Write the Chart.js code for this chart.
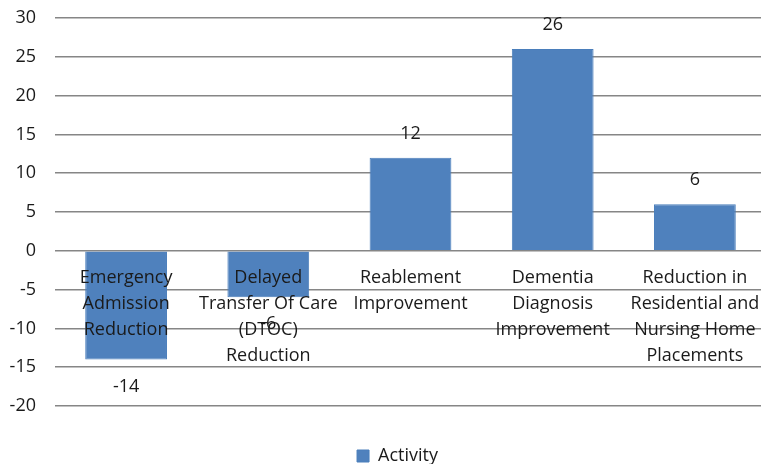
<!DOCTYPE html>
<html lang="en">
<head>
    <meta charset="UTF-8">
    <title>Activity</title>
    <script src="https://cdn.jsdelivr.net/npm/chart.js"></script>
    <style>
        html, body { margin: 0; padding: 0; background: #fff; }
        #wrap { width: 761px; height: 464px; position: relative; }
    </style>
</head>
<body>
    <div id="wrap"><canvas id="activityChart"></canvas></div>
    <script>
        const categories = [
            ['Emergency', 'Admission', 'Reduction'],
            ['Delayed', 'Transfer Of Care', '(DTOC)', 'Reduction'],
            ['Reablement', 'Improvement'],
            ['Dementia', 'Diagnosis', 'Improvement'],
            ['Reduction in', 'Residential and', 'Nursing Home', 'Placements']
        ];
        const activity = [-14, -6, 12, 26, 6];
        const yTicks = [30, 25, 20, 15, 10, 5, 0, -5, -10, -15, -20];

        const FONT = "'Open Sans', Lato, sans-serif";
        const TEXT = '#1a1a1a';

        // category names sit on the zero line, data labels outside bar ends
        const labelPlugin = {
            id: 'labels',
            afterLayout(chart) {
                // push the legend down and a bit right, like the original
                if (chart.legend) {
                    const lg = chart.legend;
                    lg.top += 11; lg.bottom += 11;
                    lg.left += 17; lg.right += 17;
                }
                // plot area runs a little past the right edge, as in the original crop
                const x = chart.scales.x;
                x.right += 5; x.width += 5; x.configure();
                chart.chartArea.right += 5; chart.chartArea.width += 5;
            },
            afterDatasetsDraw(chart) {
                const ctx = chart.ctx;
                const x = chart.scales.x, y = chart.scales.y;
                const zero = y.getPixelForValue(0);
                ctx.save();
                ctx.fillStyle = TEXT;
                ctx.textAlign = 'center';
                ctx.textBaseline = 'middle';
                ctx.font = '18px ' + FONT;
                categories.forEach((lines, i) => {
                    const cx = x.getPixelForValue(i);
                    lines.forEach((t, j) => ctx.fillText(t, cx, zero + 27 + j * 26));
                });
                const meta = chart.getDatasetMeta(0);
                meta.data.forEach((bar, i) => {
                    const v = activity[i];
                    const ly = v >= 0 ? bar.y - 24 : bar.y + 27;
                    ctx.fillText(String(v), bar.x, ly);
                });
                ctx.restore();
            }
        };

        new Chart(document.getElementById('activityChart'), {
            type: 'bar',
            data: {
                labels: categories.map(c => c.join(' ')),
                datasets: [{
                    label: 'Activity',
                    data: activity,
                    backgroundColor: '#4F81BD',
                    borderColor: '#4A7EBB',
                    borderWidth: 1,
                    categoryPercentage: 1,
                    barPercentage: 0.575
                }]
            },
            options: {
                responsive: true,
                maintainAspectRatio: false,
                animation: false,
                layout: { padding: { top: 18, right: 0, left: 0, bottom: 0 } },
                plugins: {
                    tooltip: { enabled: false },
                    legend: {
                        position: 'bottom',
                        labels: {
                            font: { family: FONT, size: 18 },
                            color: TEXT,
                            boxWidth: 12,
                            boxHeight: 12,
                            padding: 2
                        }
                    }
                },
                scales: {
                    x: {
                        grid: { display: false },
                        border: { display: false },
                        ticks: { display: false },
                        afterFit: s => { s.height = 28; }
                    },
                    y: {
                        min: -20,
                        max: 30,
                        afterBuildTicks: s => { s.ticks = yTicks.map(v => ({ value: v })); },
                        grid: { color: '#868686', lineWidth: 1.5, drawTicks: false },
                        border: { display: false },
                        ticks: {
                            font: { family: FONT, size: 18 },
                            color: TEXT,
                            padding: 19
                        },
                        afterFit: s => { s.width = 55; s.paddingTop = 0; s.paddingBottom = 0; }
                    }
                }
            },
            plugins: [labelPlugin]
        });
    </script>
</body>
</html>
